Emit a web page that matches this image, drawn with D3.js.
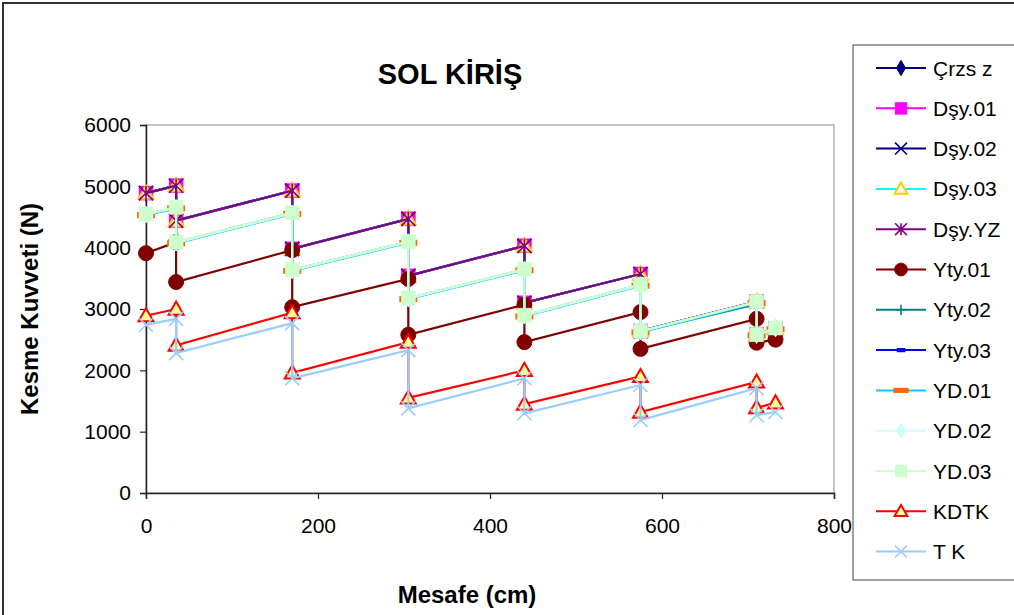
<!DOCTYPE html>
<html>
<head>
<meta charset="utf-8">
<script src="https://cdn.jsdelivr.net/npm/d3@7"></script>
<style>
  html, body { margin: 0; padding: 0; background: #fff; }
  svg { display: block; font-family: "Liberation Sans", Arial, sans-serif; }
</style>
</head>
<body>
<svg id="chart" width="1014" height="615"></svg>
<script>
// Distance along the beam (cm); each support repeats the position for the jump in shear
const distances = [0, 35, 35, 170, 170, 305, 305, 440, 440, 575, 575, 710, 710, 732];

// Shear force (N) per load case
const crzsz  = [4890, 5010, 4440, 4930, 3980, 4470, 3540, 4030, 3100, 3570, 2640, 3120, 2580, 2680];
const dsy01  = [4890, 5010, 4440, 4930, 3980, 4470, 3540, 4030, 3100, 3570, 2640, 3120, 2580, 2680];
const dsy02  = [4890, 5010, 4440, 4930, 3980, 4470, 3540, 4030, 3100, 3570, 2640, 3120, 2580, 2680];
const dsy03  = [4890, 5010, 4440, 4930, 3980, 4470, 3540, 4030, 3100, 3570, 2640, 3120, 2580, 2680];
const dsyYZ  = [4890, 5010, 4440, 4930, 3980, 4470, 3540, 4030, 3100, 3570, 2640, 3120, 2580, 2680];
const yty01  = [3910, 4090, 3440, 3960, 3030, 3490, 2580, 3070, 2460, 2950, 2350, 2840, 2450, 2500];
const yty02  = [4540, 4650, 4080, 4560, 3630, 4090, 3170, 3640, 2890, 3390, 2630, 3080, 2570, 2680];
const yty03  = [4545, 4655, 4085, 4565, 3635, 4095, 3175, 3645, 2895, 3395, 2635, 3110, 2575, 2685];
const yd01   = [4530, 4640, 4070, 4550, 3620, 4080, 3160, 3630, 2880, 3380, 2620, 3100, 2570, 2670];
const yd02   = [4540, 4650, 4080, 4560, 3630, 4090, 3170, 3640, 2890, 3390, 2630, 3110, 2575, 2680];
const yd03   = [4550, 4660, 4090, 4570, 3640, 4100, 3180, 3650, 2900, 3400, 2640, 3120, 2580, 2690];
const kdtk   = [2890, 3000, 2410, 2940, 1960, 2460, 1550, 2000, 1450, 1900, 1320, 1810, 1390, 1470];
const tk     = [2740, 2840, 2280, 2770, 1870, 2330, 1380, 1870, 1300, 1760, 1190, 1710, 1270, 1320];

const seriesNames = ["Çrzs z", "Dşy.01", "Dşy.02", "Dşy.03", "Dşy.YZ", "Yty.01", "Yty.02",
                     "Yty.03", "YD.01", "YD.02", "YD.03", "KDTK", "T K"];
const seriesValues = [crzsz, dsy01, dsy02, dsy03, dsyYZ, yty01, yty02, yty03, yd01, yd02, yd03, kdtk, tk];

const xTicks = [0, 200, 400, 600, 800];
const yTicks = [0, 1000, 2000, 3000, 4000, 5000, 6000];

const chartTitle = "SOL KİRİŞ";
const xTitle = "Mesafe (cm)";
const yTitle = "Kesme Kuvveti (N)";

// Line colour, marker type and marker colours for each series
const styles = [
  { line: "#000080", marker: "diamond", fill: "#000080", stroke: "#000080" },
  { line: "#FF00FF", marker: "square",  fill: "#FF00FF", stroke: "#FF00FF" },
  { line: "#000080", marker: "x",       fill: "none",    stroke: "#000080" },
  { line: "#00FFFF", marker: "triangle",fill: "#FFFFFF", stroke: "#FFCC00" },
  { line: "#800080", marker: "star",    fill: "none",    stroke: "#800080" },
  { line: "#800000", marker: "circle",  fill: "#800000", stroke: "#800000" },
  { line: "#008080", marker: "plus",    fill: "none",    stroke: "#008080" },
  { line: "#0000FF", marker: "dash",    fill: "#0000FF", stroke: "#0000FF" },
  { line: "#00CCFF", marker: "dashWide",fill: "#FF6600", stroke: "#FF6600" },
  { line: "#CCFFFF", marker: "diamond", fill: "#CCFFFF", stroke: "#CCFFFF" },
  { line: "#CCFFCC", marker: "square",  fill: "#CCFFCC", stroke: "#CCFFCC" },
  { line: "#FF0000", marker: "triangle",fill: "#FFFF99", stroke: "#FF0000" },
  { line: "#99CCFF", marker: "x",       fill: "none",    stroke: "#99CCFF" }
];

const svg = d3.select("#chart");

// Chart frame
svg.append("rect")
  .attr("x", 3).attr("y", 3).attr("width", 1030).attr("height", 640)
  .attr("fill", "#fff").attr("stroke", "#333").attr("stroke-width", 2);

const plot = { left: 146, top: 125, right: 834, bottom: 493 };

const x = d3.scaleLinear().domain([0, 800]).range([plot.left, plot.right]);
const y = d3.scaleLinear().domain([0, 6000]).range([plot.bottom, plot.top]);

// Plot area border
svg.append("rect")
  .attr("x", plot.left).attr("y", plot.top)
  .attr("width", plot.right - plot.left).attr("height", plot.bottom - plot.top)
  .attr("fill", "#fff").attr("stroke", "#888").attr("stroke-width", 1);

// Axes
const xAxis = svg.append("g")
  .attr("transform", `translate(0,${plot.bottom})`)
  .call(d3.axisBottom(x).tickValues(xTicks).tickSize(6).tickPadding(19).tickFormat(d3.format("d")));
const yAxis = svg.append("g")
  .attr("transform", `translate(${plot.left},0)`)
  .call(d3.axisLeft(y).tickValues(yTicks).tickSize(6).tickPadding(9).tickFormat(d3.format("d")));

[xAxis, yAxis].forEach(g => {
  g.select(".domain").attr("stroke", "#222").attr("stroke-width", 1.5);
  g.selectAll(".tick line").attr("stroke", "#222").attr("stroke-width", 1.2);
  g.selectAll(".tick text")
    .attr("fill", "#000")
    .style("font-size", "21px")
    .style("font-family", "'Liberation Sans', Arial, sans-serif");
});

// Marker drawing
function drawMarker(g, type, st, cx, cy, scale) {
  const s = scale || 1;
  const sw = 1.6;
  switch (type) {
    case "diamond":
      g.append("path").attr("d", d3.symbol().type(d3.symbolDiamond).size(80 * s)())
        .attr("transform", `translate(${cx},${cy})`)
        .attr("fill", st.fill).attr("stroke", st.stroke);
      break;
    case "square": {
      const h = 7 * s;
      g.append("rect").attr("x", cx - h).attr("y", cy - h).attr("width", 2 * h).attr("height", 2 * h)
        .attr("fill", st.fill).attr("stroke", st.stroke).attr("stroke-width", 0.5);
      break;
    }
    case "x": {
      const h = 7 * s;
      g.append("path").attr("d", `M${cx - h},${cy - h}L${cx + h},${cy + h}M${cx - h},${cy + h}L${cx + h},${cy - h}`)
        .attr("stroke", st.stroke).attr("stroke-width", sw).attr("fill", "none");
      break;
    }
    case "triangle": {
      const h = 7.5 * s;
      g.append("path").attr("d", `M${cx},${cy - h}L${cx + h},${cy + h * 0.75}L${cx - h},${cy + h * 0.75}Z`)
        .attr("fill", st.fill).attr("stroke", st.stroke).attr("stroke-width", 2);
      break;
    }
    case "star": {
      const h = 7 * s;
      g.append("path").attr("d",
        `M${cx - h},${cy - h}L${cx + h},${cy + h}M${cx - h},${cy + h}L${cx + h},${cy - h}M${cx},${cy - h}L${cx},${cy + h}`)
        .attr("stroke", st.stroke).attr("stroke-width", sw).attr("fill", "none");
      break;
    }
    case "circle":
      g.append("circle").attr("cx", cx).attr("cy", cy).attr("r", 7.5 * s)
        .attr("fill", st.fill).attr("stroke", st.stroke);
      break;
    case "plus": {
      const h = 6 * s;
      g.append("path").attr("d", `M${cx - h},${cy}L${cx + h},${cy}M${cx},${cy - h}L${cx},${cy + h}`)
        .attr("stroke", st.stroke).attr("stroke-width", sw).attr("fill", "none");
      break;
    }
    case "dash":
      g.append("rect").attr("x", cx - 5 * s).attr("y", cy - 2.5 * s).attr("width", 10 * s).attr("height", 5 * s)
        .attr("fill", st.fill);
      break;
    case "dashWide":
      g.append("rect").attr("x", cx - 9 * s).attr("y", cy - 3 * s).attr("width", 18 * s).attr("height", 6 * s)
        .attr("fill", st.fill);
      break;
  }
}

// Series lines and markers
const line = d3.line().x((d, i) => x(distances[i])).y(d => y(d));
const plotG = svg.append("g");
seriesValues.forEach((vals, si) => {
  const st = styles[si];
  const g = plotG.append("g");
  g.append("path").datum(vals)
    .attr("d", line)
    .attr("fill", "none")
    .attr("stroke", st.line)
    .attr("stroke-width", 2.2);
  vals.forEach((v, i) => drawMarker(g, st.marker, st, x(distances[i]), y(v), 1));
});

// Titles
svg.append("text")
  .attr("x", 450).attr("y", 84)
  .attr("text-anchor", "middle")
  .style("font-size", "29px").style("font-weight", "bold")
  .text(chartTitle);

svg.append("text")
  .attr("x", 467).attr("y", 603)
  .attr("text-anchor", "middle")
  .style("font-size", "24px").style("font-weight", "bold")
  .text(xTitle);

svg.append("text")
  .attr("transform", `translate(38,${(plot.top + plot.bottom) / 2}) rotate(-90)`)
  .attr("text-anchor", "middle")
  .style("font-size", "24px").style("font-weight", "bold")
  .text(yTitle);

// Legend
const legend = svg.append("g");
legend.append("rect")
  .attr("x", 853).attr("y", 45).attr("width", 200).attr("height", 535)
  .attr("fill", "#fff").attr("stroke", "#444").attr("stroke-width", 1);

seriesNames.forEach((name, i) => {
  const st = styles[i];
  const ly = 68 + i * 40.3;
  const g = legend.append("g");
  g.append("line").attr("x1", 876).attr("x2", 926).attr("y1", ly).attr("y2", ly)
    .attr("stroke", st.line).attr("stroke-width", 2);
  drawMarker(g, st.marker, st, 901, ly, 0.85);
  g.append("text")
    .attr("x", 933).attr("y", ly + 7.5)
    .style("font-size", "21px")
    .text(name);
});
</script>
</body>
</html>
